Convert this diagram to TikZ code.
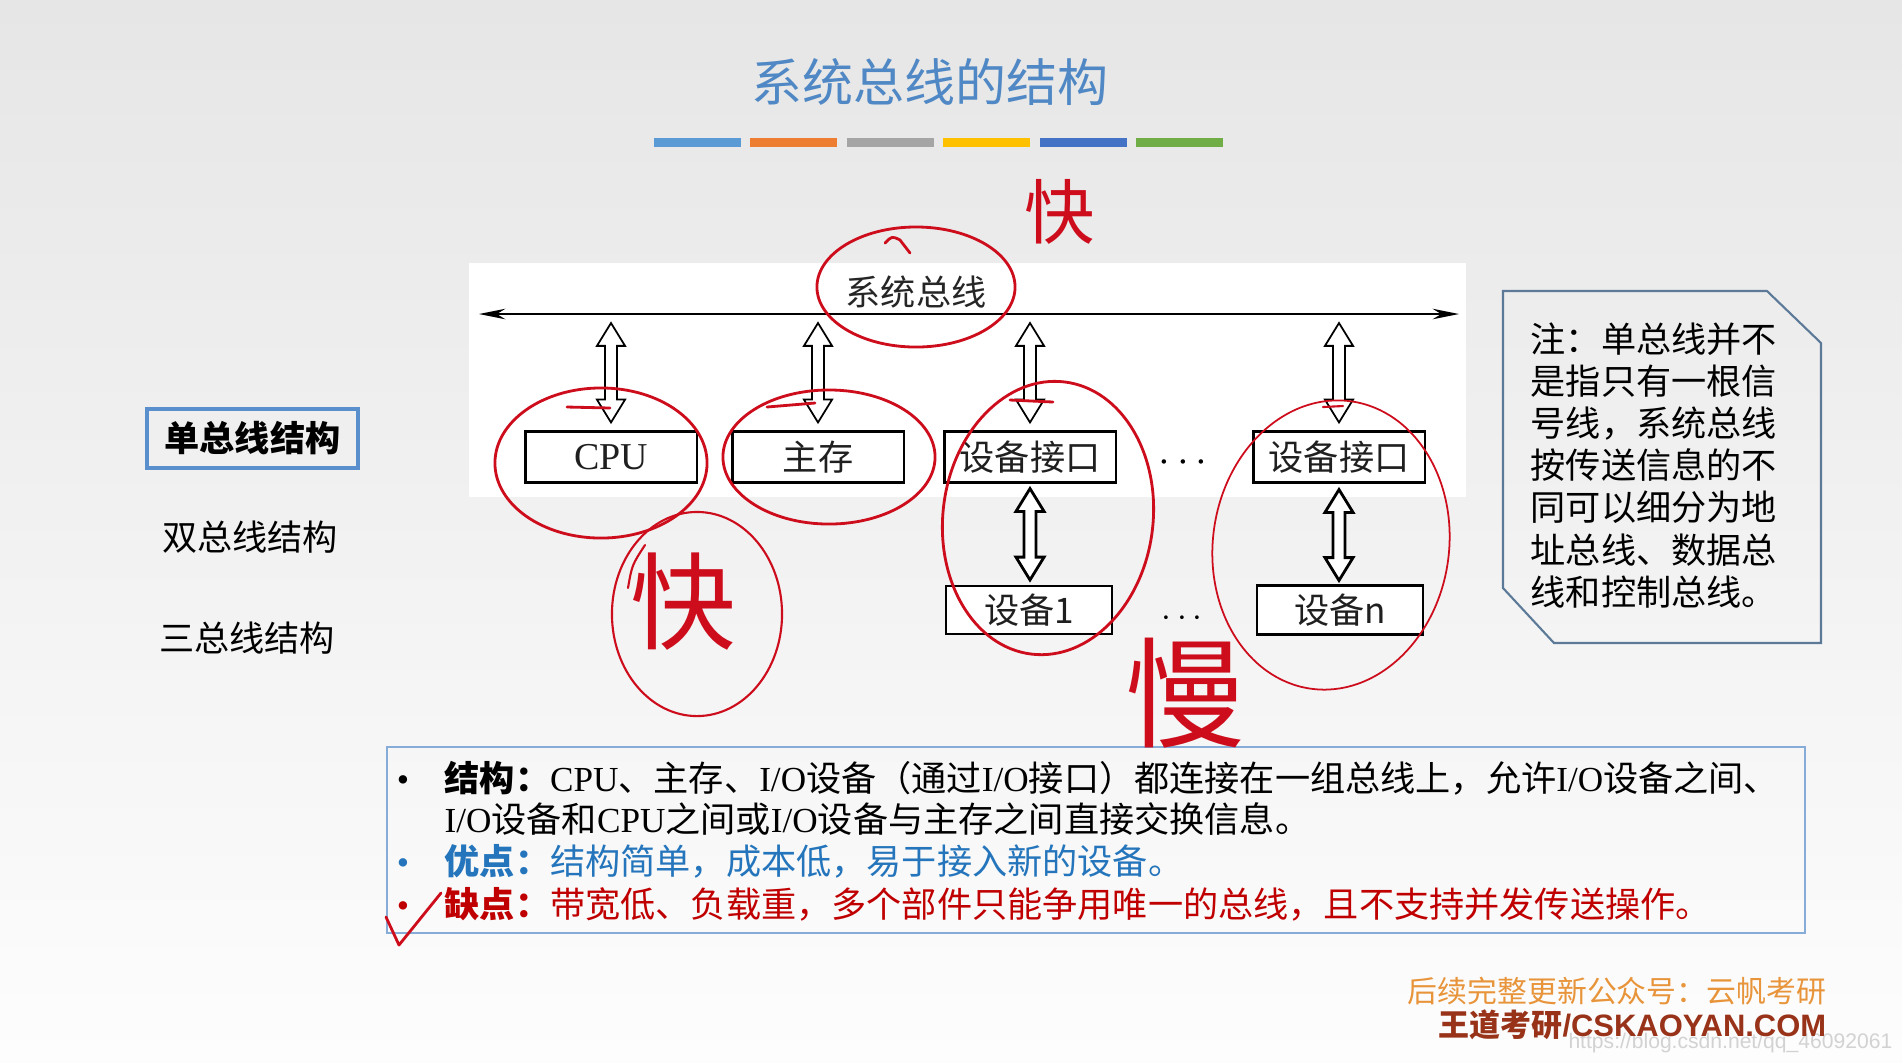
\documentclass[tikz,border=0pt]{standalone}
\usepackage{fontspec}
\setmainfont{Noto Sans CJK SC}
\newfontfamily\lat{Liberation Serif}
\newfontfamily\lsans{Liberation Sans}
\usetikzlibrary{arrows.meta,calc}

\definecolor{bgtop}{RGB}{230,230,230}
\definecolor{bgbot}{RGB}{253,253,253}
\definecolor{titleblue}{RGB}{79,136,196}
\definecolor{barA}{RGB}{91,155,213}
\definecolor{barB}{RGB}{237,125,49}
\definecolor{barC}{RGB}{165,165,165}
\definecolor{barD}{RGB}{255,192,0}
\definecolor{barE}{RGB}{68,114,196}
\definecolor{barF}{RGB}{112,173,71}
\definecolor{penred}{RGB}{205,12,28}
\definecolor{menublue}{RGB}{88,143,204}
\definecolor{notebdr}{RGB}{92,122,152}
\definecolor{botbdr}{RGB}{135,172,215}
\definecolor{goodblue}{RGB}{36,117,187}
\definecolor{badred}{RGB}{192,0,0}
\definecolor{wmorange}{RGB}{232,148,58}
\definecolor{wmbrown}{RGB}{152,50,24}
\definecolor{urlgray}{RGB}{210,210,210}

\newcommand\hdarrow[3][]{%
  \draw[harrow,#1] let \p1=#2, \p2=#3 in
  (\x1,\y1) -- ({\x1+4pt},{\y1-6.5pt}) -- ({\x1+1.7pt},{\y1-6.5pt})
  -- ({\x1+1.7pt},{\y2+6.5pt}) -- ({\x1+4pt},{\y2+6.5pt}) -- (\x1,\y2)
  -- ({\x1-4pt},{\y2+6.5pt}) -- ({\x1-1.7pt},{\y2+6.5pt})
  -- ({\x1-1.7pt},{\y1-6.5pt}) -- ({\x1-4pt},{\y1-6.5pt}) -- cycle;}

\begin{document}
\begin{tikzpicture}[x=0.01cm,y=-0.01cm,
  box/.style={draw, line width=0.6pt, fill=white, minimum width=1.71cm,
    minimum height=0.51cm, inner sep=0pt, font=\fontsize{10}{12}\selectfont, text=black!88},
  harrow/.style={draw=black, line width=0.5pt, fill=white, line join=miter},
  redpen/.style={draw=penred, line width=0.8pt, line cap=round, line join=round},
  redtext/.style={text=penred, inner sep=0pt},
  txt/.style={font=\fontsize{10}{12}\selectfont, inner sep=0pt},
  bline/.style={anchor=base west, inner sep=0pt, font=\fontsize{10}{12}\selectfont},
  bullet/.style={anchor=base, inner sep=0pt, font=\lat\fontsize{10}{12}\selectfont}
]
\useasboundingbox (0,0) rectangle (1902,1062);
\shade[top color=bgtop, bottom color=bgbot] (0,0) rectangle (1902,1062);

% title and colour bars
\node[anchor=base, inner sep=0pt, text=titleblue, font=\fontsize{14.5}{16}\selectfont] (title) at (930,101) {系统总线的结构};
\foreach \c [count=\i from 0] in {barA,barB,barC,barD,barE,barF}
  \fill[\c] ({654+96.4*\i},138) rectangle ++(87,9);

% diagram area
\fill[white] (469,263) rectangle (1466,497);
\coordinate (busL) at (479,314);
\coordinate (busR) at (1459,314);
\draw[line width=0.55pt, {Stealth[length=7.5pt,width=3pt]}-{Stealth[length=7.5pt,width=3pt]}] (busL) -- (busR);
\node[anchor=base, inner sep=0pt, text=black!85, font=\fontsize{10}{12}\selectfont] (buslabel) at (916,305) {系统总线};

\node[box] (cpu) at (611,457) {\lat\fontsize{10.8}{12}\selectfont CPU};
\node[box] (mem) at (818,457) {主存};
\node[box] (if1) at (1030,457) {设备接口};
\node[box] (ifn) at (1339,457) {设备接口};
\node[box, minimum width=1.66cm, minimum height=0.48cm] (dev1) at (1029,610) {设备1};
\node[box, minimum width=1.66cm, minimum height=0.49cm] (devn) at (1340,610) {设备n};

\node[inner sep=0pt, font=\fontsize{11.5}{12}\selectfont] (dots1) at (1183,463) {$\cdots$};
\node[inner sep=0pt, font=\fontsize{9.7}{12}\selectfont] (dots2) at (1182,619) {$\cdots$};

\hdarrow{($(cpu.north|-busL)+(0,9)$)}{($(cpu.north)+(0,-8)$)}
\hdarrow{($(mem.north|-busL)+(0,9)$)}{($(mem.north)+(0,-8)$)}
\hdarrow{($(if1.north|-busL)+(0,9)$)}{($(if1.north)+(0,-8)$)}
\hdarrow{($(ifn.north|-busL)+(0,9)$)}{($(ifn.north)+(0,-8)$)}
\hdarrow[line width=0.8pt]{($(if1.south)+(0,5)$)}{($(dev1.north)+(0,-5)$)}
\hdarrow[line width=0.8pt]{($(ifn.south)+(0,6)$)}{($(devn.north)+(0,-4)$)}

% left menu
\node[draw=menublue, line width=0.9pt, minimum width=2.11cm, minimum height=0.59cm,
  inner sep=0pt, font=\bfseries\fontsize{10}{12}\selectfont] (m1) at (252.5,438.5) {单总线结构};
\node[txt] (m2) at (250,537) {双总线结构};
\node[txt] (m3) at (247,638) {三总线结构};

% note box
\draw[notebdr, line width=0.6pt] (1503,291) -- (1767,291) -- (1821,343) -- (1821,643)
  -- (1554,643) -- (1503,588) -- cycle;
\foreach \t [count=\i from 0] in {注：单总线并不,是指只有一根信,号线，系统总线,按传送信息的不,同可以细分为地,址总线、数据总,线和控制总线。}
  \node[bline] (note\i) at (1530,{352+42.2*\i}) {\t};

% bottom box
\draw[botbdr, line width=0.6pt] (387,747) rectangle (1805,933);
\node[bullet] (b1) at (403,791) {•};
\node[bullet, text=goodblue] (b3) at (403,874) {•};
\node[bullet, text=badred] (b4) at (403,917) {•};
\node[bline] (l1) at (444,791) {{\bfseries 结构：}{\lat CPU}、主存、{\lat I/O}设备（通过{\lat I/O}接口）都连接在一组总线上，允许{\lat I/O}设备之间、};
\node[bline] (l2) at (444,832) {{\lat I/O}设备和{\lat CPU}之间或{\lat I/O}设备与主存之间直接交换信息。};
\node[bline, text=goodblue] (l3) at (444,874) {{\bfseries 优点：}结构简单，成本低，易于接入新的设备。};
\node[bline, text=badred] (l4) at (444,917) {{\bfseries 缺点：}带宽低、负载重，多个部件只能争用唯一的总线，且不支持并发传送操作。};

% watermarks
\node[anchor=base west, inner sep=0pt, text=wmorange, font=\fontsize{8.5}{10}\selectfont] (wm1) at (1407,1002) {后续完整更新公众号：云帆考研};
\node[anchor=base east, inner sep=0pt, text=urlgray, font=\lsans\fontsize{6}{7}\selectfont] (url) at (1893,1048) {https://blog.csdn.net/qq\_46092061};
\node[anchor=base west, inner sep=0pt, text=wmbrown, font=\bfseries\fontsize{8.8}{10}\selectfont] (wm2) at (1438,1036) {王道考研{\lsans\bfseries /CSKAOYAN.COM}};

% red hand annotations
\draw[redpen] (916,287) ellipse [x radius=0.99cm, y radius=0.60cm];
\draw[redpen] (885,243) .. controls (892,236) .. (900,240) -- (910,253);
\draw[redpen] (601,463) ellipse [x radius=1.06cm, y radius=0.75cm];
\draw[redpen] (567,407) -- (610,408);
\draw[redpen] (829,457) ellipse [x radius=1.06cm, y radius=0.67cm];
\draw[redpen] (767,407) -- (815,403);
\draw[redpen, rotate around={-7:(1048,518)}] (1048,518) ellipse [x radius=1.05cm, y radius=1.37cm];
\draw[redpen] (1010,400) -- (1053,402);
\draw[redpen, line width=0.5pt, rotate around={-8:(1331,545)}] (1331,545) ellipse [x radius=1.18cm, y radius=1.45cm];
\draw[redpen, line width=0.6pt] (1323,407) -- (1343,406);
\draw[redpen, line width=0.6pt] (697,614) ellipse [x radius=0.85cm, y radius=1.02cm];
\draw[redpen, line width=0.6pt] (628,588) .. controls (632,565) .. (645,545);
\draw[redpen] (386,917) -- (399,945) -- (441,893);
\node[redtext, font=\fontsize{20}{20}\selectfont] (fast1) at (1060,212) {快};
\node[redtext, font=\fontsize{30}{30}\selectfont] (fast2) at (683,602) {快};
\node[redtext, font=\fontsize{34}{34}\selectfont] (slow) at (1185,693) {慢};
\end{tikzpicture}
\end{document}
